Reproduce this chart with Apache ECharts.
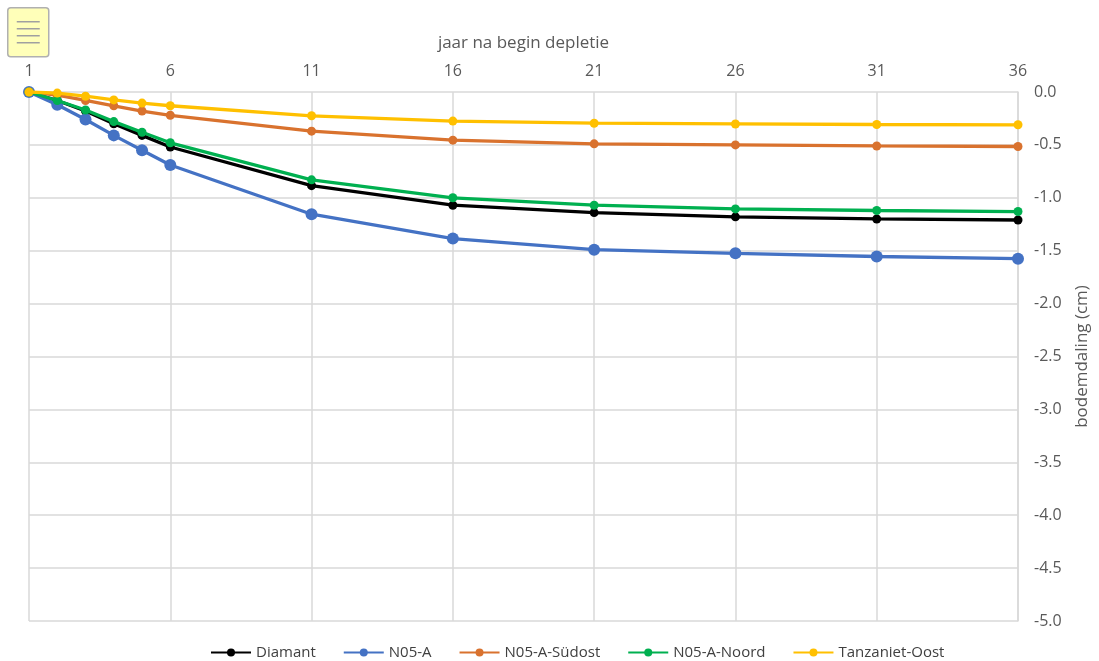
<!DOCTYPE html>
<html><head><meta charset="utf-8">
<script src="https://cdn.jsdelivr.net/npm/echarts@6/dist/echarts.min.js"></script>
<style>html,body{margin:0;padding:0;background:#fff}#c{width:1099px;height:661px}</style>
</head><body><div id="c"></div>
<script>
const years = [1, 2, 3, 4, 5, 6, 11, 16, 21, 26, 31, 36];
const diamant = [0, -0.08, -0.18, -0.30, -0.41, -0.52, -0.885, -1.07, -1.14, -1.18, -1.20, -1.21];
const n05a = [0, -0.12, -0.26, -0.41, -0.55, -0.69, -1.155, -1.385, -1.49, -1.525, -1.555, -1.575];
const n05aSudost = [0, -0.03, -0.08, -0.13, -0.18, -0.22, -0.37, -0.455, -0.49, -0.50, -0.51, -0.515];
const n05aNoord = [0, -0.08, -0.17, -0.28, -0.38, -0.48, -0.83, -1.00, -1.07, -1.105, -1.12, -1.13];
const tanzOost = [0, -0.01, -0.04, -0.075, -0.105, -0.13, -0.225, -0.275, -0.295, -0.302, -0.307, -0.31];
const seriesNames = ['Diamant', 'N05-A', 'N05-A-Südost', 'N05-A-Noord', 'Tanzaniet-Oost'];
const seriesData = [diamant, n05a, n05aSudost, n05aNoord, tanzOost];
const colors = ['#000000', '#4472C4', '#D9722E', '#00B050', '#FFC000'];
const sizes = [9, 12, 9, 9, 9];

const chart = echarts.init(document.getElementById('c'));
const font = 'Open Sans, Liberation Sans, sans-serif';
chart.setOption({
  animation: false,
  textStyle: {fontFamily: font},
  grid: {left: 29, right: 79, top: 92, bottom: 40},
  legend: {
    bottom: -4, left: 205, itemWidth: 40, itemHeight: 10, itemGap: 27,
    textStyle: {color: '#404040', fontSize: 15, fontFamily: font},
    data: seriesNames
  },
  xAxis: {
    type: 'value', position: 'top', min: 1, max: 36, interval: 5,
    name: 'jaar na begin depletie', nameLocation: 'middle', nameGap: 40,
    nameTextStyle: {color: '#595959', fontSize: 17},
    axisLine: {show: false}, axisTick: {show: false},
    axisLabel: {color: '#595959', fontSize: 16, margin: 13},
    splitLine: {show: true, lineStyle: {color: '#d9d9d9', width: 1.5}}
  },
  yAxis: {
    type: 'value', position: 'right', min: -5, max: 0, interval: 0.5,
    name: 'bodemdaling (cm)', nameLocation: 'middle', nameGap: 56, nameRotate: 90,
    nameTextStyle: {color: '#595959', fontSize: 17},
    axisLine: {show: true, lineStyle: {color: '#d9d9d9', width: 1.5}}, axisTick: {show: false},
    axisLabel: {color: '#595959', fontSize: 16, margin: 16, formatter: v => v.toFixed(1)},
    splitLine: {show: true, lineStyle: {color: '#d9d9d9', width: 1.5}}
  },
  graphic: [{
    type: 'group', left: 7, top: 7, children: [
      {type: 'rect', shape: {x: 0, y: 0, width: 41, height: 49, r: 3}, style: {fill: '#FFFFB9', stroke: '#b0b0b0', lineWidth: 1.5}},
      {type: 'line', shape: {x1: 9, y1: 14, x2: 32, y2: 14}, style: {stroke: '#a0a0a0', lineWidth: 1.5}},
      {type: 'line', shape: {x1: 9, y1: 21, x2: 32, y2: 21}, style: {stroke: '#a0a0a0', lineWidth: 1.5}},
      {type: 'line', shape: {x1: 9, y1: 28, x2: 32, y2: 28}, style: {stroke: '#a0a0a0', lineWidth: 1.5}},
      {type: 'line', shape: {x1: 9, y1: 35, x2: 32, y2: 35}, style: {stroke: '#a0a0a0', lineWidth: 1.5}}
    ]
  }],
  series: seriesNames.map((n, i) => ({
    name: n, type: 'line', data: years.map((y, j) => [y, seriesData[i][j]]),
    symbol: 'circle', symbolSize: sizes[i], showSymbol: true,
    lineStyle: {color: colors[i], width: 3.3}, itemStyle: {color: colors[i]},
    z: 2 + i
  }))
});
</script></body></html>
